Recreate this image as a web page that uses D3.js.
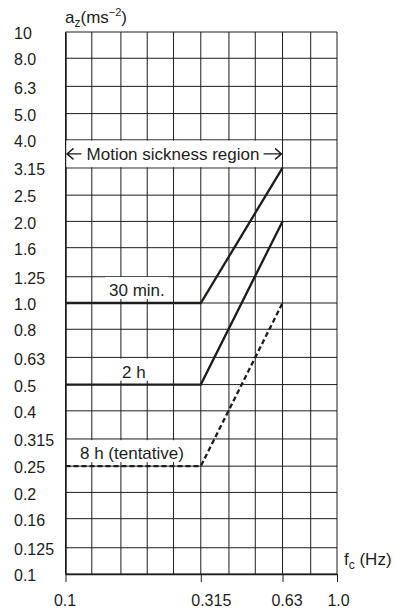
<!DOCTYPE html>
<html><head><meta charset="utf-8">
<script src="https://cdn.jsdelivr.net/npm/d3@7"></script>
<style>
body{margin:0;background:#fff;}
svg{display:block;font-family:"Liberation Sans",Arial,Helvetica,sans-serif;}
</style></head><body>
<svg id="chart" width="395" height="613"></svg>
<script>
// one-third-octave values for the vertical acceleration axis
const accelTicks = [0.1,0.125,0.16,0.2,0.25,0.315,0.4,0.5,0.63,0.8,1.0,1.25,1.6,2.0,2.5,3.15,4.0,5.0,6.3,8.0,10];
const accelLabels = ["0.1","0.125","0.16","0.2","0.25","0.315","0.4","0.5","0.63","0.8","1.0","1.25","1.6","2.0","2.5","3.15","4.0","5.0","6.3","8.0","10"];
// frequency grid and labelled frequencies
const freqGrid = [0.1,0.125,0.16,0.2,0.25,0.315,0.4,0.5,0.63,0.8,1.0];
const freqTicks = [0.1,0.315,0.63,1.0];
const freqLabels = ["0.1","0.315","0.63","1.0"];

// exposure limits: flat below 0.315 Hz, rising up to 0.63 Hz
const curveFreqs = [0.1,0.315,0.63];
const curveNames = ["30 min.","2 h","8 h (tentative)"];
const limit30min = [1.0,1.0,3.15];
const limit2h = [0.5,0.5,2.0];
const limit8h = [0.25,0.25,1.0];
const regionBounds = [0.1,0.63];
const regionBand = [3.15,4.0];
const regionLabel = "Motion sickness region";

const ink = "#1d1d1b";
const svg = d3.select("#chart");

const x = d3.scaleLog().domain([0.1, 1.0]).range([65.5, 337]);
const y = d3.scaleLog().domain([0.1, 10]).range([574, 32]);

// grid
const grid = svg.append("g").attr("stroke", ink).attr("stroke-width", 1);
grid.selectAll("line.h").data(accelTicks).join("line").attr("class","h")
  .attr("x1", x(0.1)).attr("x2", x(1.0))
  .attr("y1", d => y(d)).attr("y2", d => y(d));
grid.selectAll("line.v").data(freqGrid).join("line").attr("class","v")
  .attr("x1", d => x(d)).attr("x2", d => x(d))
  .attr("y1", y(0.1)).attr("y2", y(10));

// bottom axis with labelled frequencies (labels nudged as typeset)
const xLabelNudge = [-1, 10, 4, 1];
const xAxis = svg.append("g").attr("transform", `translate(0,${y(0.1)})`)
  .call(d3.axisBottom(x).tickValues(freqTicks).tickSize(8).tickSizeOuter(0).tickPadding(13)
    .tickFormat((d,i) => freqLabels[i]));
xAxis.select(".domain").attr("stroke", ink).attr("stroke-width", 1.5);
xAxis.selectAll(".tick line").attr("stroke", ink).attr("stroke-width", 1);
xAxis.selectAll(".tick text").attr("font-size", 16).attr("fill", ink).attr("font-family", null)
  .attr("dx", (d,i) => xLabelNudge[i]);

// left axis, labels left-aligned at the page margin
const yAxis = svg.append("g").attr("transform", `translate(${x(0.1)},0)`)
  .call(d3.axisLeft(y).tickValues(accelTicks).tickSize(0).tickSizeOuter(0)
    .tickFormat((d,i) => accelLabels[i]));
yAxis.select(".domain").attr("stroke", ink).attr("stroke-width", 1.5);
yAxis.selectAll(".tick text").attr("font-size", 16).attr("fill", ink).attr("font-family", null)
  .attr("text-anchor", "start").attr("x", 14 - x(0.1)).attr("dy", "0.42em");

// motion sickness band with double arrow
const ry0 = y(regionBand[1]), ry1 = y(regionBand[0]);
const rx0 = x(regionBounds[0]), rx1 = x(regionBounds[1]);
svg.append("rect").attr("x", rx0 + 0.8).attr("y", ry0 + 0.8)
  .attr("width", rx1 - rx0 - 1.6).attr("height", ry1 - ry0 - 1.6).attr("fill", "#fff");
const ay = (ry0 + ry1) / 2;
svg.append("text").attr("x", (rx0 + rx1) / 2 - 1).attr("y", ay + 6.5)
  .attr("text-anchor", "middle").attr("font-size", 17).attr("fill", ink).text(regionLabel);
const arrows = svg.append("g").attr("stroke", ink).attr("stroke-width", 1.4).attr("fill", "none");
arrows.append("path").attr("d", `M${rx0 + 16},${ay}H${rx0 + 1.5}M${rx0 + 8},${ay - 5.5}L${rx0 + 1.5},${ay}L${rx0 + 8},${ay + 5.5}`);
arrows.append("path").attr("d", `M${rx1 - 19},${ay}H${rx1 - 1}M${rx1 - 7.5},${ay - 5.5}L${rx1 - 1},${ay}L${rx1 - 7.5},${ay + 5.5}`);

// limit curves
const curves = [limit30min, limit2h, limit8h];
const line = d3.line().x((d,i) => x(curveFreqs[i])).y(d => y(d));
const labelLeft = [109, 122, 80];

curves.forEach((vals, k) => {
  // label with white backing
  const t = svg.append("text").attr("x", labelLeft[k]).attr("y", y(vals[0]) - 7)
    .attr("font-size", 17).attr("fill", ink).text(curveNames[k]);
  const b = t.node().getBBox();
  svg.insert("rect", () => t.node())
    .attr("x", b.x - 4).attr("y", y(vals[0]) - 26)
    .attr("width", b.width + 8).attr("height", 22).attr("fill", "#fff");
  svg.append("path").datum(vals).attr("d", line)
    .attr("fill", "none").attr("stroke", ink).attr("stroke-width", 2.3)
    .attr("stroke-dasharray", k === 2 ? "5,3" : null);
});

// axis titles
const yt = svg.append("text").attr("x", 65).attr("y", 23).attr("font-size", 17).attr("fill", ink);
yt.append("tspan").text("a");
yt.append("tspan").attr("dy", 4).attr("font-size", 12).text("z");
yt.append("tspan").attr("dy", -4).text("(ms");
yt.append("tspan").attr("dy", -7).attr("font-size", 11).text("\u22122");
yt.append("tspan").attr("dy", 7).text(")");

const xt = svg.append("text").attr("x", 344).attr("y", 565).attr("font-size", 17).attr("fill", ink);
xt.append("tspan").text("f");
xt.append("tspan").attr("dy", 4).attr("font-size", 12).text("c");
xt.append("tspan").attr("dy", -4).text(" (Hz)");
</script>
</body></html>
